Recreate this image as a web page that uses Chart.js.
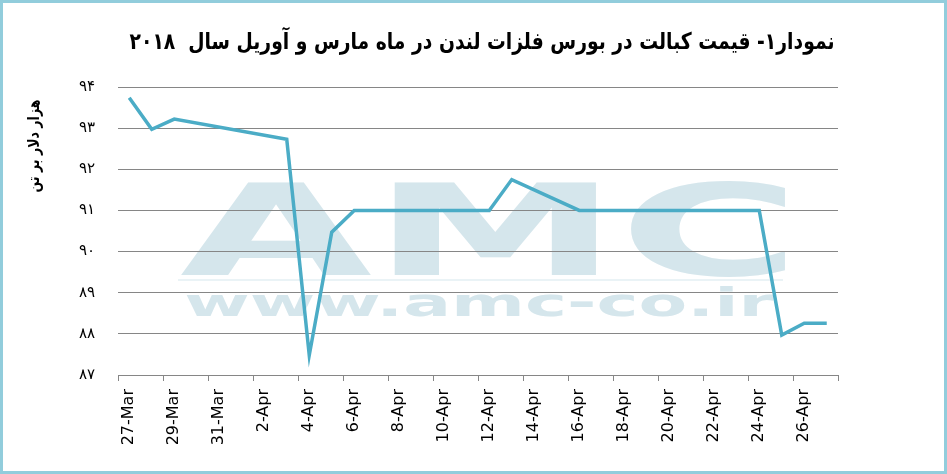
<!DOCTYPE html>
<html>
<head>
<meta charset="utf-8">
<script src="https://cdn.jsdelivr.net/npm/chart.js@4.4.1/dist/chart.umd.min.js"></script>
<style>
    body { margin: 0; background: #ffffff; }
    #wrap { position: relative; width: 947px; height: 474px; }
    #frame {
        position: absolute; left: 0; top: 0; width: 947px; height: 474px;
        box-sizing: border-box; border: 3px solid #92CDDC; pointer-events: none;
    }
</style>
</head>
<body>
<div id="wrap">
    <canvas id="cobaltChart" width="947" height="474"></canvas>
    <div id="frame"></div>
</div>
<script>
// =============================================
// DATA (LME cobalt, thousand USD per tonne)
// =============================================

const dayLabels = [
    "27-Mar", "28-Mar", "29-Mar", "30-Mar", "31-Mar",
    "1-Apr", "2-Apr", "3-Apr", "4-Apr", "5-Apr", "6-Apr", "7-Apr", "8-Apr",
    "9-Apr", "10-Apr", "11-Apr", "12-Apr", "13-Apr", "14-Apr", "15-Apr",
    "16-Apr", "17-Apr", "18-Apr", "19-Apr", "20-Apr", "21-Apr", "22-Apr",
    "23-Apr", "24-Apr", "25-Apr", "26-Apr", "27-Apr"
];

// null = market closed (weekend / holiday), line spans the gap
const cobaltPrice = [
    93.74, 92.97, 93.22, null, null,
    null, null, 92.73, 87.48, 90.47, 91.0, null, null,
    91.0, 91.0, 91.0, 91.0, 91.75, null, null,
    91.0, 91.0, 91.0, 91.0, 91.0, null, null,
    91.0, 91.0, 87.97, 88.26, 88.26
];

const yTicks = [87, 88, 89, 90, 91, 92, 93, 94];

const chartTitle = "نمودار۱- قیمت کبالت در بورس فلزات لندن در ماه مارس و آوریل سال  ۲۰۱۸";
const yAxisTitle = "هزار دلار بر تن";

// =============================================
// HELPERS
// =============================================

function toPersianDigits(n) {
    return String(n).replace(/[0-9]/g, d => "۰۱۲۳۴۵۶۷۸۹"[d]);
}

// stretch text so its ink fills the given box
function fitText(ctx, text, font, box) {
    ctx.font = font;
    const m = ctx.measureText(text);
    const w = m.actualBoundingBoxLeft + m.actualBoundingBoxRight;
    const h = m.actualBoundingBoxAscent + m.actualBoundingBoxDescent;
    ctx.save();
    ctx.translate(box.x, box.y);
    ctx.scale(box.w / w, box.h / h);
    ctx.textAlign = "left";
    ctx.textBaseline = "alphabetic";
    ctx.fillText(text, m.actualBoundingBoxLeft, m.actualBoundingBoxAscent);
    ctx.restore();
}

// draw centred text squeezed to a given width (only scales x)
function squeezeText(ctx, text, font, cx, cy, width) {
    ctx.font = font;
    const w = ctx.measureText(text).width;
    ctx.save();
    ctx.translate(cx, cy);
    ctx.scale(width / w, 1);
    ctx.textAlign = "center";
    ctx.textBaseline = "middle";
    ctx.fillText(text, 0, 0);
    ctx.restore();
}

// =============================================
// WATERMARK (behind grid and line) + TITLES
// =============================================

const decorations = {
    id: "decorations",
    beforeDraw(chart) {
        const ctx = chart.ctx;
        ctx.save();
        ctx.fillStyle = "#D5E6EC";
        fitText(ctx, "AMC", "bold 100px 'DejaVu Sans'", { x: 180, y: 180, w: 605, h: 96 });
        fitText(ctx, "www.amc-co.ir", "bold 40px 'DejaVu Sans'", { x: 186, y: 286, w: 588, h: 31 });
        ctx.fillStyle = "#EAF3F6";
        ctx.fillRect(178, 279, 605, 2);
        ctx.restore();
    },
    afterDraw(chart) {
        const ctx = chart.ctx;
        ctx.save();
        ctx.fillStyle = "#000000";

        // main title
        squeezeText(ctx, chartTitle, "bold 23px 'DejaVu Sans'", 482, 43, 705);

        // y axis title, rotated
        ctx.translate(35, 146);
        ctx.rotate(-Math.PI / 2);
        squeezeText(ctx, yAxisTitle, "bold 16px 'DejaVu Sans'", 0, 0, 93);
        ctx.restore();
    }
};

// =============================================
// CHART
// =============================================

const gridGray = "#868686";

new Chart(document.getElementById("cobaltChart"), {

    type: "line",

    data: {
        labels: dayLabels,
        datasets: [
            {
                data: cobaltPrice,
                borderColor: "#4BACC6",
                borderWidth: 3.5,
                pointRadius: 0,
                tension: 0,
                spanGaps: true
            }
        ]
    },

    options: {
        responsive: false,
        animation: false,
        layout: { padding: { left: 18, right: 109, top: 87, bottom: 0 } },
        plugins: {
            legend: { display: false },
            tooltip: { enabled: false },
            title: { display: false }
        },
        scales: {
            x: {
                offset: true,
                grid: {
                    offset: true,
                    drawOnChartArea: false,
                    tickLength: 6,
                    color: c => (c.index === undefined || c.index % 2 === 0) ? gridGray : "rgba(0,0,0,0)"
                },
                border: { display: true, color: gridGray },
                ticks: {
                    autoSkip: false,
                    maxRotation: 90,
                    minRotation: 90,
                    padding: 8,
                    color: "#000000",
                    font: { family: "'DejaVu Sans'", size: 16 },
                    callback: function (v, i) {
                        return i % 2 === 0 ? this.getLabelForValue(v) : "";
                    }
                },
                afterFit: s => { s.height = 99; }
            },
            y: {
                min: yTicks[0],
                max: yTicks[yTicks.length - 1],
                grid: { color: gridGray, drawTicks: false },
                border: { display: false },
                ticks: {
                    stepSize: 1,
                    padding: 23,
                    color: "#000000",
                    font: { family: "'DejaVu Sans'", size: 15 },
                    callback: v => toPersianDigits(v)
                },
                afterFit: s => { s.width = 100; }
            }
        }
    },

    plugins: [decorations]

});
</script>
</body>
</html>
